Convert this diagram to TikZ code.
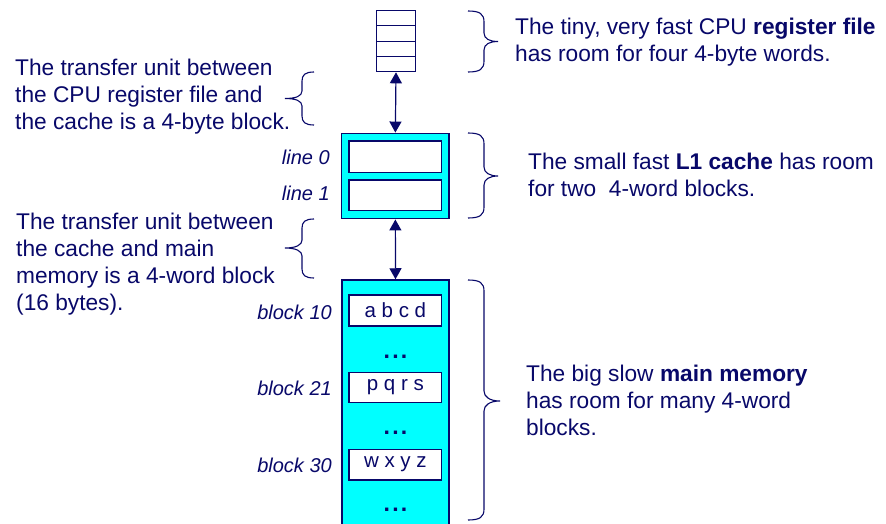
\documentclass[tikz,border=0pt]{standalone}
\usepackage{fontspec}
\setmainfont{Liberation Sans}
\usetikzlibrary{arrows.meta,calc}
\definecolor{navy}{RGB}{8,8,105}
\definecolor{cy}{RGB}{0,255,255}
\begin{document}
\begin{tikzpicture}[x=1pt,y=-1pt,
  txt/.style={inner sep=0pt,text=navy,align=left,font=\fontsize{22.7}{27}\selectfont},
  lbl/.style={inner sep=0pt,text=navy,anchor=east,font=\fontsize{20}{24}\selectfont\itshape},
  box/.style={draw=navy,line width=1.3pt,fill=white,minimum width=92.7pt,inner sep=0pt,text=navy,font=\fontsize{20.5}{24}\selectfont},
  outer/.style={draw=navy,line width=1.5pt,fill=cy,inner sep=0pt,minimum width=107.3pt},
  brc/.style={draw=navy,line width=1.1pt},
  conn/.style={draw=navy,line width=1.2pt,{Triangle[width=12pt,length=11pt]}-{Triangle[width=12pt,length=11pt]}},
  dots/.style={inner sep=0pt,text=navy,font=\fontsize{23}{26}\selectfont\bfseries}]
\useasboundingbox (0,0) rectangle (886,524);
% register file
\node[draw=navy,line width=1.2pt,fill=white,minimum width=38.3pt,minimum height=61pt,inner sep=0pt] (reg) at (396,41.2) {};
\foreach \f in {0.25,0.5,0.75}
  \draw[navy,line width=1.2pt] ($(reg.north west)!\f!(reg.south west)$) -- ($(reg.north east)!\f!(reg.south east)$);
% cache
\node[outer,minimum height=85.4pt] (cache) at (395.35,176) {};
\node[box,minimum height=31.3pt] (l0) at (395.35,156.65) {};
\node[box,minimum height=30.7pt] (l1) at (395.35,195.35) {};
% memory
\node[outer,minimum height=280pt] (mem) at (395.5,420) {};
\node[box,minimum height=31pt] (b10) at (395.35,310.5) {a b c d};
\node[box,minimum height=30.4pt] (b21) at (395.35,387.5) {p q r s};
\node[box,minimum height=30.7pt] (b30) at (395.35,464.65) {w x y z};
\node[dots] (d1) at (395.5,357) {.\kern2.2pt.\kern2.2pt.};
\node[dots] (d2) at (395.5,433) {.\kern2.2pt.\kern2.2pt.};
\node[dots] (d3) at (395.5,510) {.\kern2.2pt.\kern2.2pt.};
% connectors
\draw[conn] (reg.south) -- (cache.north);
\draw[conn] (cache.south) -- (mem.north);
% labels
\node[lbl] (ll0) at (330,157) {line 0};
\node[lbl] (ll1) at (330,193) {line 1};
\node[lbl] (lb10) at (332,312) {block 10};
\node[lbl] (lb21) at (332,388) {block 21};
\node[lbl] (lb30) at (332,465) {block 30};
% right braces
\draw[brc] (468,11) .. controls (480,11) and (484,14) .. (484,22) -- (484,33) .. controls (484,39) and (490,41.5) .. (498,41.5) .. controls (490,41.5) and (484,44) .. (484,50) -- (484,61) .. controls (484,69) and (480,72) .. (468,72);
\draw[brc] (468,133) .. controls (480,133) and (484,136) .. (484,144) -- (484,167) .. controls (484,173) and (490,176) .. (498,176) .. controls (490,176) and (484,179) .. (484,185) -- (484,207) .. controls (484,215) and (480,218) .. (468,218);
\draw[brc] (468,280) .. controls (480,280) and (484,283) .. (484,291) -- (484,391) .. controls (484,397) and (490,401) .. (500,401) .. controls (490,401) and (484,405) .. (484,411) -- (484,509) .. controls (484,517) and (480,520) .. (468,520);
% left braces
\draw[brc] (314,72) .. controls (305,72) and (302,75) .. (302,81) -- (302,91) .. controls (302,96) and (296,98.5) .. (285,98.5) .. controls (296,98.5) and (302,101) .. (302,106) -- (302,116) .. controls (302,122) and (305,125) .. (314,125);
\draw[brc] (314,219) .. controls (305,219) and (302,222) .. (302,228) -- (302,240) .. controls (302,245) and (296,248) .. (285,248) .. controls (296,248) and (302,251) .. (302,256) -- (302,269) .. controls (302,275) and (305,278) .. (314,278);
% texts
\node[txt,anchor=west] (t1) at (15,96.5) {The transfer unit between\\the CPU register file and\\the cache is a 4-byte block.};
\node[txt,anchor=west] (t2) at (16,264) {The transfer unit between\\the cache and main\\memory is a 4-word block\\(16 bytes).};
\node[txt,anchor=west] (t3) at (515,42) {The tiny, very fast CPU \textbf{register file}\\has room for four 4-byte words.};
\node[txt,anchor=west] (t4) at (528,174.5) {The small fast \textbf{L1 cache} has room\\for two~ 4-word blocks.};
\node[txt,anchor=west] (t5) at (526,400.5) {The big slow \textbf{main memory}\\has room for many 4-word\\blocks.};
\end{tikzpicture}
\end{document}
